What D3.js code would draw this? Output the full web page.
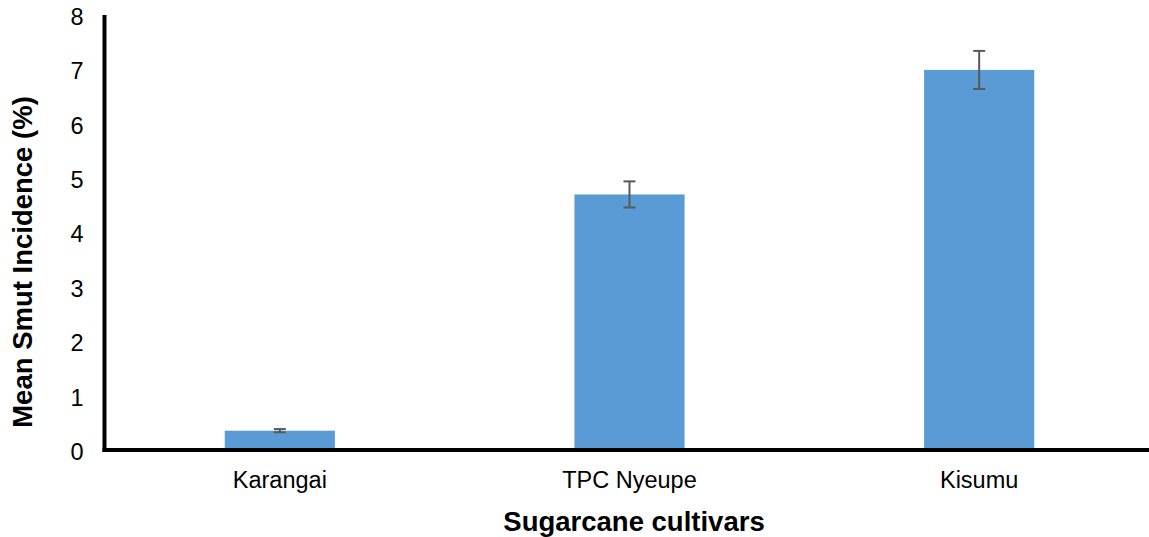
<!DOCTYPE html>
<html><head><meta charset="utf-8">
<script src="https://cdn.jsdelivr.net/npm/d3@7"></script>
<style>html,body{margin:0;padding:0;background:#fff;}svg{display:block;}</style>
</head><body>
<script>
const categories = ["Karangai", "TPC Nyeupe", "Kisumu"];
const values = [0.355, 4.70, 6.99];
const errors = [0.03, 0.24, 0.35];
const yTicks = [0, 1, 2, 3, 4, 5, 6, 7, 8];
const xTitle = "Sugarcane cultivars";
const yTitle = "Mean Smut Incidence (%)";

const W = 1149, H = 537;
const svg = d3.select("body").append("svg").attr("width", W).attr("height", H);
const font = "Liberation Sans, Arial, sans-serif";

const y = d3.scaleLinear().domain([0, 8]).range([450, 15]);
const x = d3.scaleBand().domain(categories).range([105, 1154]).paddingInner(0.685).paddingOuter(0.3425);

// bars
svg.selectAll("rect.bar").data(categories).join("rect")
  .attr("x", d => x(d)).attr("width", x.bandwidth())
  .attr("y", (d, i) => y(values[i])).attr("height", (d, i) => y(0) - y(values[i]))
  .attr("fill", "#5b9bd5");

// error bars
const eg = svg.append("g").attr("stroke", "#595959").attr("stroke-width", 2);
categories.forEach((c, i) => {
  const cx = x(c) + x.bandwidth() / 2;
  const t = y(values[i] + errors[i]), b = y(values[i] - errors[i]);
  eg.append("line").attr("x1", cx).attr("x2", cx).attr("y1", t).attr("y2", b);
  eg.append("line").attr("x1", cx - 6).attr("x2", cx + 6).attr("y1", t).attr("y2", t);
  eg.append("line").attr("x1", cx - 6).attr("x2", cx + 6).attr("y1", b).attr("y2", b);
});

// y axis
const ya = svg.append("g").attr("transform", "translate(104.5,0)")
  .call(d3.axisLeft(y).tickValues(yTicks).tickSize(0).tickPadding(21).tickFormat(d3.format("d")));
ya.select(".domain").attr("stroke", "#000").attr("stroke-width", 4).attr("d", `M0,${y(8)}V${y(0)+2}`);
ya.selectAll("text").attr("font-family", font).attr("font-size", 23.5).attr("fill", "#000").attr("dy", "0.4em");

// x axis
const xa = svg.append("g").attr("transform", "translate(0,450)")
  .call(d3.axisBottom(x).tickSize(0).tickPadding(21));
xa.select(".domain").attr("stroke", "#000").attr("stroke-width", 4).attr("d", `M102.5,0H${W}`);
xa.selectAll("text").attr("font-family", font).attr("font-size", 23.5).attr("fill", "#000");

// titles
svg.append("text").attr("x", 634).attr("y", 531).attr("text-anchor", "middle")
  .attr("font-family", font).attr("font-size", 27.5).attr("font-weight", "bold").text(xTitle);
svg.append("text").attr("transform", "translate(32,262) rotate(-90)").attr("text-anchor", "middle")
  .attr("font-family", font).attr("font-size", 27.5).attr("font-weight", "bold").text(yTitle);
</script>
</body></html>
